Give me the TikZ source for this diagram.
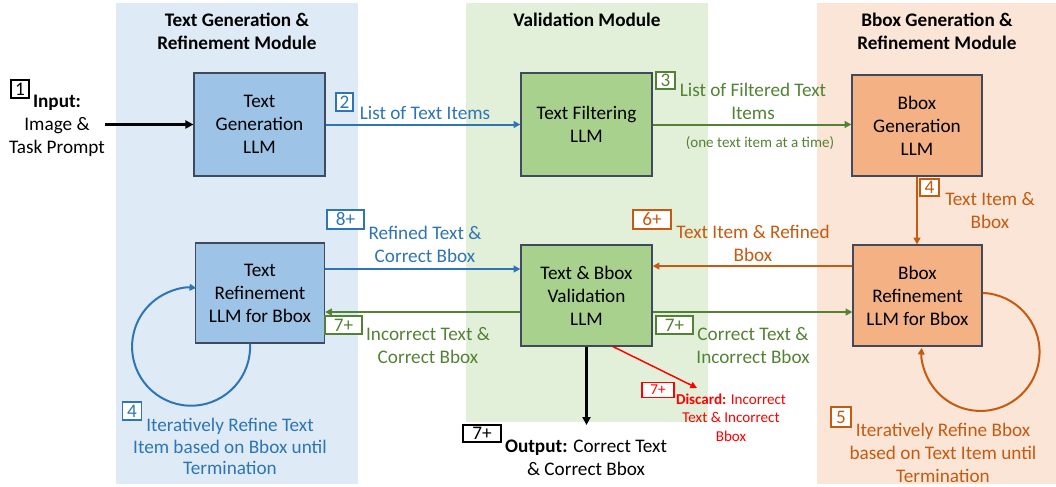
\documentclass[tikz,border=0pt]{standalone}
\usepackage{fontspec}
\setmainfont{Carlito}
\usetikzlibrary{arrows.meta,calc}
\definecolor{pblue}{HTML}{DEEBF7}
\definecolor{pgreen}{HTML}{E2F0D9}
\definecolor{porange}{HTML}{FBE5D6}
\definecolor{fblue}{HTML}{9DC3E6}
\definecolor{fgreen}{HTML}{A9D18E}
\definecolor{forange}{HTML}{F4B183}
\definecolor{bord}{HTML}{3F4A5C}
\definecolor{cblue}{HTML}{2E75B6}
\definecolor{cgreen}{HTML}{548235}
\definecolor{corange}{HTML}{C55A11}
\definecolor{cred}{HTML}{FF0000}
\begin{document}
\begin{tikzpicture}[x=0.75pt,y=0.75pt,
  every node/.style={inner sep=0pt, align=center},
  big/.style={font=\fontsize{14.4}{17.25}\selectfont},
  small/.style={font=\fontsize{11.3}{13.9}\selectfont},
  llmbox/.style 2 args={draw=bord, line width=0.9pt, minimum width=#1*0.75pt, minimum height=#2*0.75pt, big},
  numbox/.style 2 args={draw, fill=white, line width=0.8pt, minimum width=#1*0.75pt, minimum height=#2*0.75pt, big},
  arr/.style={line width=1.5pt, -{Triangle[length=5pt,width=5pt]}},
  thickarr/.style={line width=2.2pt, -{Triangle[length=6pt,width=6pt]}}]
\useasboundingbox (0,0) rectangle (1056,-486);
% panels
\fill[pblue] (116,-3) rectangle (358,-484);
\fill[pgreen] (466,-3) rectangle (708,-422);
\fill[porange] (817,-3) rectangle (1056,-484);
% titles
\node[big, font=\fontsize{14.4}{17.25}\selectfont\bfseries] (t1) at (237,-31.5) {Text Generation \&\\Refinement Module};
\node[big, font=\fontsize{14.4}{17.25}\selectfont\bfseries] (t2) at (587,-20) {Validation Module};
\node[big, font=\fontsize{14.4}{17.25}\selectfont\bfseries] (t3) at (937,-31.5) {Bbox Generation \&\\Refinement Module};
% LLM boxes
\node[llmbox={131}{103}, fill=fblue] (tg) at (259.5,-124.5) {Text\\Generation\\LLM};
\node[llmbox={131}{103}, fill=fgreen] (tf) at (586.5,-124.5) {Text Filtering\\LLM};
\node[llmbox={130}{101}, fill=forange] (bg) at (917,-125.5) {Bbox\\Generation\\LLM};
\node[llmbox={129}{100}, fill=fblue] (tr) at (260,-293) {Text\\Refinement\\LLM for Bbox};
\node[llmbox={131}{101}, fill=fgreen] (vl) at (586.5,-295.5) {Text \& Bbox\\Validation\\LLM};
\node[llmbox={129}{101}, fill=forange] (br) at (917.5,-295.5) {Bbox\\Refinement\\LLM for Bbox};
% input
\node[big, anchor=center] (inp) at (57,-125.5) {\textbf{Input:}\\Image \&\\Task Prompt};
\node[numbox={18}{18}, draw=black] (n1) at (20,-89) {1};
\draw[thickarr] (inp.east |- tg.west) -- (tg.west);
% 2
\draw[arr, cblue] (tg.east) -- (tg.east -| tf.west);
\node[numbox={17}{18}, draw=cblue, text=cblue] (n2) at (344.5,-102) {2};
\node[big, text=cblue] (l2) at (425,-113) {List of Text Items};
% 3
\draw[arr, cgreen] (tf.east) -- (tf.east -| bg.west);
\node[numbox={19}{17}, draw=cgreen, text=cgreen] (n3) at (665.5,-80.5) {3};
\node[big, text=cgreen] (l3) at (753,-101.5) {List of Filtered Text\\Items};
\node[small, text=cgreen] (l3b) at (760,-143) {(one text item at a time)};
% 4 orange
\draw[arr, corange] (bg.south) -- (bg.south |- br.north);
\node[numbox={19}{17}, draw=corange, text=corange] (n4o) at (929.5,-187.5) {4};
\node[big, text=corange] (l4o) at (990,-210.5) {Text Item \&\\Bbox};
% 6+
\draw[arr, corange] ([yshift=22.1pt]br.west) -- ([yshift=22.1pt]br.west -| vl.east);
\node[numbox={38}{19}, draw=corange, text=corange] (n6) at (652,-219.5) {6+};
\node[big, text=corange] (l6) at (753,-243.5) {Text Item \& Refined\\Bbox};
% 8+
\draw[arr, cblue] ([yshift=18pt]tr.east) -- ([yshift=18pt]tr.east -| vl.west);
\node[numbox={37}{19}, draw=cblue, text=cblue] (n8) at (345.5,-219.5) {8+};
\node[big, text=cblue] (l8) at (425,-244) {Refined Text \&\\Correct Bbox};
% 7+ left
\draw[arr, cgreen] ([yshift=-12.4pt]vl.west) -- ([yshift=-12.4pt]vl.west -| tr.east);
\node[numbox={37}{18}, draw=cgreen, text=cgreen] (n7l) at (343.5,-325) {7+};
\node[big, text=cgreen] (l7l) at (428,-346) {Incorrect Text \&\\Correct Bbox};
% 7+ right
\draw[arr, cgreen] ([yshift=-12.4pt]vl.east) -- ([yshift=-12.4pt]vl.east -| br.west);
\node[numbox={37}{18}, draw=cgreen, text=cgreen] (n7r) at (674.5,-325) {7+};
\node[big, text=cgreen] (l7r) at (753,-346) {Correct Text \&\\Incorrect Bbox};
% discard
\coordinate (dtip) at (697,-388);
\draw[line width=1.1pt, cred, -{Triangle[length=5pt,width=5pt]}] ([xshift=19.9pt]vl.south) -- (dtip);
\node[numbox={32}{15}, draw=cred, text=cred, font=\fontsize{11.3}{13.9}\selectfont] (n7d) at (658,-390) {7+};
\node[small, text=cred] (ld) at (731,-417.5) {\textbf{Discard:} Incorrect\\Text \& Incorrect\\Bbox};
% output
\coordinate (otip) at (586.5,-425);
\draw[thickarr] (vl.south) -- (otip);
\node[numbox={38}{17}, draw=black] (n7o) at (482,-433.5) {7+};
\node[big] (lo) at (586,-458) {\textbf{Output:} Correct Text\\\& Correct Bbox};
% loops
\draw[arr, cblue] ([xshift=-7.5pt]tr.south) arc[start angle=3, end angle=-275, radius=44.25pt];
\node[numbox={19}{18}, draw=cblue, text=cblue] (n4b) at (132,-411) {4};
\node[big, text=cblue, font=\fontsize{14.4}{16.1}\selectfont] (l4b) at (230,-446.5) {Iteratively Refine Text\\Item based on Bbox until\\Termination};
\draw[arr, corange] ([yshift=1.9pt]br.east) arc[start angle=88, end angle=-184, radius=44.25pt];
\node[numbox={20}{20}, draw=corange, text=corange] (n5) at (841,-417) {5};
\node[big, text=corange] (l5) at (943,-452.5) {Iteratively Refine Bbox\\based on Text Item until\\Termination};
\end{tikzpicture}
\end{document}
